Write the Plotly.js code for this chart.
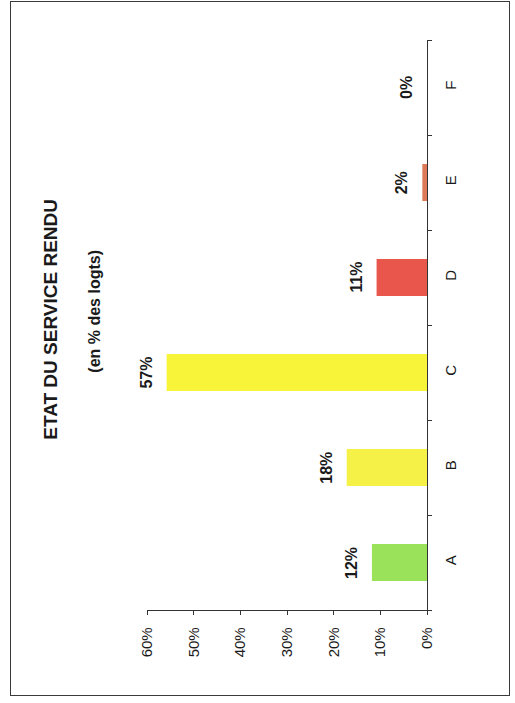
<!DOCTYPE html>
<html>
<head>
<meta charset="utf-8">
<script src="https://cdn.plot.ly/plotly-3.0.1.min.js"></script>
<style>
  html, body { margin: 0; padding: 0; background: #ffffff; }
  #wrap { position: relative; width: 515px; height: 703px; overflow: hidden; }
  #chart { position: absolute; left: 0; top: 0; width: 515px; height: 703px; }
  #frame { position: absolute; left: 10px; top: 1px; width: 498px; height: 693px;
           border: 1.5px solid #3a3a3a; pointer-events: none; }
</style>
</head>
<body>
<div id="wrap">
  <div id="chart"></div>
  <div id="frame"></div>
</div>
<script>
// Data (rotated scan)
var categories = ['A', 'B', 'C', 'D', 'E', 'F'];
var values = [11.8, 17.2, 55.8, 10.8, 1.0, 0];          // bar lengths, % of dwellings
var valueLabels = ['12%', '18%', '57%', '11%', '2%', '0%'];
var barColors = ['#9ae25a', '#f5f146', '#f8f43a', '#e8564c', '#dd7a58', '#ffffff'];
var valueTicks = [0, 10, 20, 30, 40, 50, 60];
var valueTickText = ['0%', '10%', '20%', '30%', '40%', '50%', '60%'];
var titleText = 'ETAT DU SERVICE RENDU';
var subtitleText = '(en % des logts)';

var FONT = 'Liberation Sans, Arial, Helvetica, sans-serif';

var trace = {
  type: 'bar',
  orientation: 'h',
  x: values,
  y: categories,
  width: 0.39,
  marker: { color: barColors, line: { width: 0 } },
  hoverinfo: 'skip'
};

var annotations = categories.map(function (c, i) {
  return {
    x: values[i], y: c, xref: 'x', yref: 'y',
    text: valueLabels[i], showarrow: false,
    textangle: -90, xanchor: 'right', yanchor: 'middle', xshift: -10,
    font: { family: FONT, size: 16, color: '#1a1a1a', weight: 'bold' }
  };
});
annotations.push({
  x: -0.345, y: 0.51, xref: 'paper', yref: 'paper',
  text: '<b>' + titleText + '</b>', showarrow: false, textangle: -90,
  xanchor: 'center', yanchor: 'middle',
  font: { family: FONT, size: 19, color: '#1a1a1a' }
});
annotations.push({
  x: -0.186, y: 0.525, xref: 'paper', yref: 'paper',
  text: '<b>' + subtitleText + '</b>', showarrow: false, textangle: -90,
  xanchor: 'center', yanchor: 'middle',
  font: { family: FONT, size: 16, color: '#1a1a1a' }
});

var layout = {
  width: 515, height: 703,
  margin: { l: 147, r: 88, t: 40, b: 93, pad: 0 },
  paper_bgcolor: '#ffffff', plot_bgcolor: '#ffffff',
  showlegend: false,
  font: { family: FONT, color: '#1a1a1a' },
  xaxis: {
    range: [60, 0], tickvals: valueTicks, ticktext: valueTickText,
    tickangle: -90, showline: true, linecolor: '#333333', linewidth: 1.3,
    ticks: 'outside', ticklen: 4, tickcolor: '#333333',
    showgrid: false, zeroline: false, ticklabelstandoff: 6,
    tickfont: { family: FONT, size: 15, color: '#1a1a1a' }, fixedrange: true
  },
  yaxis: {
    type: 'category', categoryorder: 'array', categoryarray: categories,
    side: 'right', tickangle: -90, showline: true, linecolor: '#333333', linewidth: 1.3,
    ticks: 'outside', ticklen: 4, tickcolor: '#333333', tickson: 'boundaries',
    showgrid: false, zeroline: false, ticklabelstandoff: 10,
    tickfont: { family: FONT, size: 15, color: '#1a1a1a' }, fixedrange: true
  },
  annotations: annotations
};

Plotly.newPlot('chart', [trace], layout, { displayModeBar: false, staticPlot: true });
</script>
</body>
</html>
